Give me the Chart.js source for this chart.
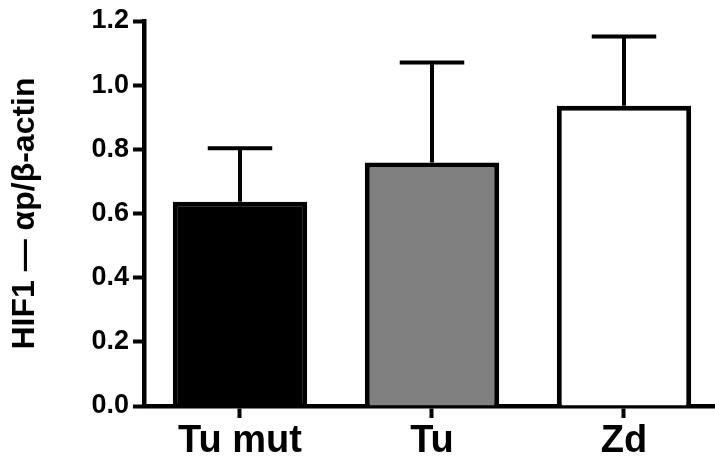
<!DOCTYPE html>
<html>
<head>
<meta charset="utf-8">
<script src="https://cdn.jsdelivr.net/npm/chart.js@4/dist/chart.umd.min.js"></script>
<style>
  html, body { margin: 0; padding: 0; background: #fff; }
  #wrap { width: 715px; height: 466px; position: relative; }
</style>
</head>
<body>
<div id="wrap"><canvas id="c" width="715" height="466"></canvas></div>
<script>
// Groups, mean ratios and their upper error (SD)
const categories = ['Tu mut', 'Tu', 'Zd'];
const meanValues = [0.637, 0.759, 0.936];
const sdValues = [0.166, 0.312, 0.216];
const fillColors = ['#000000', '#808080', '#ffffff'];
const yTicks = [0, 0.2, 0.4, 0.6, 0.8, 1.0, 1.2];

// Upper-only error bars with a flat cap
const errorBars = {
  id: 'errorBars',
  afterDatasetsDraw(chart) {
    const meta = chart.getDatasetMeta(0);
    const yScale = chart.scales.y;
    const ctx = chart.ctx;
    ctx.save();
    ctx.strokeStyle = '#000';
    ctx.lineWidth = 4;
    ctx.lineCap = 'butt';
    meta.data.forEach((bar, i) => {
      const top = yScale.getPixelForValue(meanValues[i] + sdValues[i]);
      const capHalf = bar.width * 0.24;
      ctx.beginPath();
      ctx.moveTo(bar.x, bar.y);
      ctx.lineTo(bar.x, top);
      ctx.moveTo(bar.x - capHalf, top);
      ctx.lineTo(bar.x + capHalf, top);
      ctx.stroke();
    });
    ctx.restore();
  }
};

new Chart(document.getElementById('c'), {
  type: 'bar',
  data: {
    datasets: [{
      data: meanValues.map((v, i) => ({ x: i, y: v })),
      backgroundColor: fillColors,
      borderColor: '#000000',
      borderWidth: 5,
      barPercentage: 0.7,
      categoryPercentage: 1.0
    }]
  },
  options: {
    responsive: false,
    animation: false,
    events: [],
    layout: { padding: { top: 21, right: 0, bottom: 0, left: 0 } },
    plugins: { legend: { display: false }, tooltip: { enabled: false } },
    scales: {
      x: {
        type: 'linear',
        offset: false,
        min: -0.5,
        max: 2.474,
        afterBuildTicks(scale) {
          scale.ticks = categories.map((c, i) => ({ value: i }));
        },
        afterFit(scale) { scale.height = 60; },
        ticks: {
          autoSkip: false,
          maxRotation: 0,
          padding: 1,
          color: '#000',
          font: { family: 'Liberation Sans, Arial, sans-serif', size: 38, weight: 'bold', lineHeight: 1.2 },
          callback: (v) => categories[v]
        },
        grid: { offset: false, drawOnChartArea: false, color: '#000', tickLength: 12, tickWidth: 4 },
        border: { display: true, color: '#000', width: 4.5 }
      },
      y: {
        min: 0,
        max: 1.2,
        afterBuildTicks(scale) {
          scale.ticks = yTicks.map(v => ({ value: v }));
        },
        afterFit(scale) { scale.width = 144; },
        ticks: {
          padding: 4,
          color: '#000',
          font: { family: 'Liberation Sans, Arial, sans-serif', size: 27, weight: 'bold' },
          callback: (v) => Number(v).toFixed(1)
        },
        grid: { drawOnChartArea: false, color: '#000', tickLength: 11, tickWidth: 4 },
        border: { display: true, color: '#000', width: 4.5 },
        title: {
          display: true,
          text: 'HIF1 — αp/β-actin',
          color: '#000',
          padding: { top: 6, bottom: 0 },
          font: { family: 'Liberation Sans, Arial, sans-serif', size: 32, weight: 'bold', lineHeight: 1.2 }
        }
      }
    }
  },
  plugins: [errorBars]
});
</script>
</body>
</html>
